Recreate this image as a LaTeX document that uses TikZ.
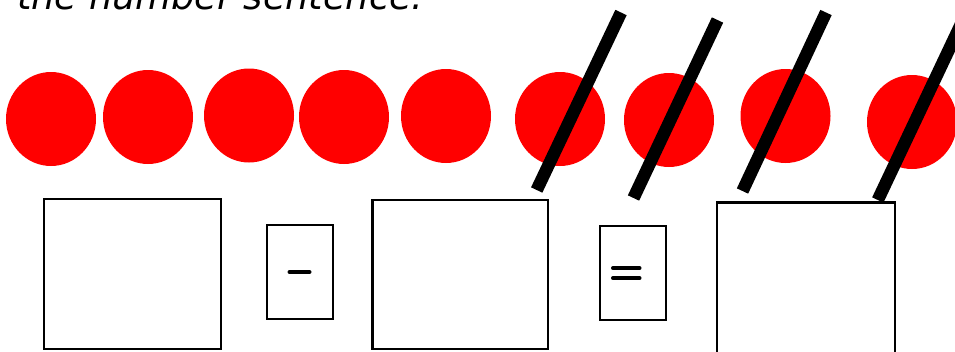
\documentclass[tikz,border=0pt]{standalone}
\usepackage{fontspec}
\newfontfamily\handfont{DejaVu Sans}
\usetikzlibrary{shapes.geometric}
\definecolor{dotred}{HTML}{FF0000}
\tikzset{
  dot/.style={ellipse, fill=dotred, draw=none, inner sep=0pt, minimum width=90pt, minimum height=94pt},
  slash/.style={line width=12.5pt, line cap=butt, black},
  answerbox/.style={rectangle, draw=black, line width=2.4pt, fill=white, inner sep=0pt},
  signbox/.style={rectangle, draw=black, line width=2.4pt, fill=white, inner sep=0pt, minimum width=66pt, minimum height=94pt},
  signline/.style={line width=4pt, line cap=round, black}
}
\begin{document}
\begin{tikzpicture}[x=1pt,y=-1pt]
\useasboundingbox (0,0) rectangle (955,351);
% heading, cut off at top
\node[anchor=base west, inner sep=0pt, font=\handfont\itshape\fontsize{36.7}{42}\selectfont] (title) at (17,9) {the number sentence.};
% dots
\node[dot] (d1) at (51,119) {};
\node[dot] (d2) at (148,117) {};
\node[dot] (d3) at (249,115.5) {};
\node[dot] (d4) at (344,117) {};
\node[dot] (d5) at (446,116) {};
\node[dot] (d6) at (560,119) {};
\node[dot] (d7) at (669,120) {};
\node[dot] (d8) at (785.5,116) {};
\node[dot] (d9) at (912,122) {};
% crossing-out slashes
\coordinate (s1a) at (621,12.5);  \coordinate (s1b) at (536.7,190);
\coordinate (s2a) at (717.5,20);  \coordinate (s2b) at (633.5,198);
\coordinate (s3a) at (826,12.5);  \coordinate (s3b) at (742.5,191);
\coordinate (s4a) at (962,22);    \coordinate (s4b) at (877.8,200);
\draw[slash] (s1a) -- (s1b);
\draw[slash] (s2a) -- (s2b);
\draw[slash] (s3a) -- (s3b);
\draw[slash] (s4a) -- (s4b);
% boxes
\node[answerbox, minimum width=177pt, minimum height=150pt] (b1) at (132.5,274) {};
\node[signbox] (minus) at (300,272) {};
\node[answerbox, minimum width=175.5pt, minimum height=149pt] (b2) at (460.25,274.5) {};
\node[signbox] (equal) at (633,273) {};
\node[answerbox, minimum width=178pt, minimum height=160pt] (b3) at (806,282.5) {};
% signs
\draw[signline] ([xshift=-10.5pt]minus.center) -- ([xshift=9.5pt]minus.center);
\draw[signline] ([xshift=-20pt,yshift=4.8pt]equal.center) -- ([xshift=6.5pt,yshift=4.8pt]equal.center);
\draw[signline] ([xshift=-20pt,yshift=-5.2pt]equal.center) -- ([xshift=6.5pt,yshift=-5.2pt]equal.center);
\end{tikzpicture}
\end{document}
